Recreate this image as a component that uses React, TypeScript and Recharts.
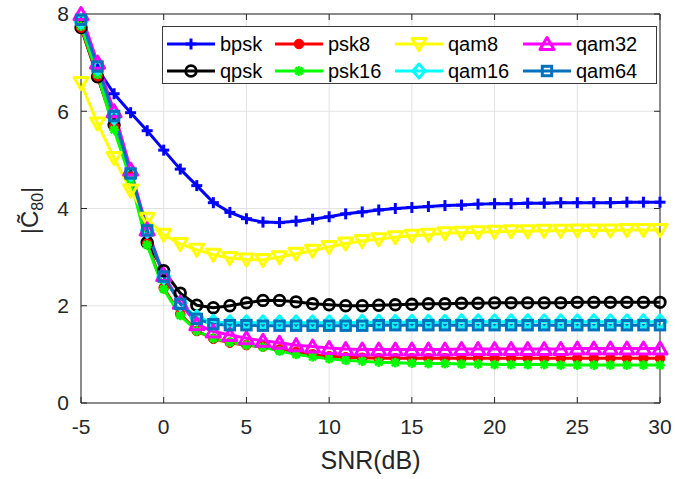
import React from 'react';
import { LineChart, Line, XAxis, YAxis, CartesianGrid, Legend } from 'recharts';

// SNR sweep in dB
const snr = [
  -5, -4, -3, -2, -1, 0, 1, 2, 3, 4, 5, 6, 7, 8, 9, 10, 11, 12,
  13, 14, 15, 16, 17, 18, 19, 20, 21, 22, 23, 24, 25, 26, 27, 28, 29, 30,
];

const xTicks = [-5, 0, 5, 10, 15, 20, 25, 30];
const yTicks = [0, 2, 4, 6, 8];
const X_DOMAIN: [number, number] = [-5, 30];
const Y_DOMAIN: [number, number] = [0, 8];

// |C80| estimates per modulation
const bpsk = [
  7.9, 6.87, 6.36, 5.97, 5.6, 5.2, 4.81, 4.47, 4.12, 3.92, 3.79, 3.72, 3.71, 3.74, 3.78, 3.83, 3.89, 3.93,
  3.97, 4.0, 4.02, 4.04, 4.06, 4.07, 4.09, 4.1, 4.1, 4.11, 4.11, 4.12, 4.12, 4.12, 4.12, 4.13, 4.13, 4.13,
];
const qpsk = [
  7.72, 6.71, 5.72, 4.69, 3.3, 2.72, 2.26, 2.01, 1.96, 2.0, 2.06, 2.11, 2.11, 2.08, 2.04, 2.02, 2.0, 2.0,
  2.01, 2.02, 2.03, 2.04, 2.04, 2.05, 2.05, 2.06, 2.06, 2.06, 2.06, 2.06, 2.07, 2.07, 2.07, 2.07, 2.07, 2.07,
];
const psk8 = [
  7.72, 6.72, 5.68, 4.65, 3.28, 2.37, 1.83, 1.48, 1.32, 1.24, 1.19, 1.16, 1.1, 1.05, 1.0, 0.96, 0.94, 0.93,
  0.92, 0.92, 0.92, 0.92, 0.92, 0.92, 0.92, 0.92, 0.92, 0.92, 0.92, 0.92, 0.92, 0.92, 0.92, 0.92, 0.92, 0.92,
];
const psk16 = [
  7.75, 6.76, 5.62, 4.6, 3.25, 2.34, 1.8, 1.48, 1.33, 1.25, 1.19, 1.15, 1.07, 1.0, 0.95, 0.91, 0.88, 0.86,
  0.84, 0.83, 0.82, 0.81, 0.81, 0.8, 0.8, 0.79, 0.79, 0.79, 0.79, 0.78, 0.78, 0.78, 0.78, 0.78, 0.78, 0.78,
];
const qam8 = [
  6.58, 5.75, 5.04, 4.37, 3.79, 3.46, 3.27, 3.15, 3.05, 2.98, 2.95, 2.94, 3.0, 3.07, 3.13, 3.21, 3.28, 3.33,
  3.37, 3.41, 3.44, 3.46, 3.49, 3.5, 3.51, 3.52, 3.53, 3.53, 3.54, 3.54, 3.55, 3.55, 3.55, 3.56, 3.56, 3.56,
];
const qam16 = [
  7.85, 6.9, 5.88, 4.72, 3.55, 2.6, 2.05, 1.76, 1.66, 1.65, 1.65, 1.65, 1.65, 1.65, 1.65, 1.65, 1.65, 1.66,
  1.66, 1.66, 1.66, 1.66, 1.66, 1.67, 1.67, 1.67, 1.67, 1.67, 1.67, 1.67, 1.67, 1.67, 1.67, 1.67, 1.67, 1.67,
];
const qam32 = [
  8.0, 7.0, 6.0, 4.8, 3.57, 2.63, 2.06, 1.62, 1.47, 1.4, 1.33, 1.28, 1.24, 1.19, 1.16, 1.13, 1.11, 1.1,
  1.1, 1.1, 1.1, 1.1, 1.1, 1.11, 1.11, 1.11, 1.11, 1.11, 1.11, 1.11, 1.12, 1.12, 1.12, 1.12, 1.12, 1.12,
];
const qam64 = [
  7.88, 6.92, 5.9, 4.72, 3.55, 2.6, 2.04, 1.73, 1.62, 1.6, 1.6, 1.59, 1.59, 1.59, 1.59, 1.59, 1.59, 1.59,
  1.6, 1.6, 1.6, 1.6, 1.6, 1.6, 1.6, 1.6, 1.6, 1.6, 1.6, 1.6, 1.6, 1.6, 1.6, 1.6, 1.6, 1.6,
];

type Shape = 'plus' | 'circle' | 'dot' | 'star' | 'down' | 'diamond' | 'up' | 'square';

interface SeriesDef {
  key: string;
  color: string;
  shape: Shape;
  values: number[];
}

const series: SeriesDef[] = [
  { key: 'bpsk', color: '#0000FF', shape: 'plus', values: bpsk },
  { key: 'qpsk', color: '#000000', shape: 'circle', values: qpsk },
  { key: 'psk8', color: '#FF0000', shape: 'dot', values: psk8 },
  { key: 'psk16', color: '#00FF00', shape: 'star', values: psk16 },
  { key: 'qam8', color: '#FFFF00', shape: 'down', values: qam8 },
  { key: 'qam16', color: '#00FFFF', shape: 'diamond', values: qam16 },
  { key: 'qam32', color: '#FF00FF', shape: 'up', values: qam32 },
  { key: 'qam64', color: '#0072BD', shape: 'square', values: qam64 },
];

// legend grid: two rows, four columns
const legendRows = [
  ['bpsk', 'psk8', 'qam8', 'qam32'],
  ['qpsk', 'psk16', 'qam16', 'qam64'],
];

const data = snr.map((x, i) => {
  const row: Record<string, number> = { snr: x };
  series.forEach((s) => {
    row[s.key] = s.values[i];
  });
  return row;
});

const CHART_W = 675;
const CHART_H = 479;
const MARGIN = { top: 14, right: 15, bottom: 36, left: 21 };
const TICK_LEN = 6;
const AXIS = '#262626';
const FONT = '"Liberation Sans", Arial, Helvetica, sans-serif';

function Marker({ cx, cy, shape, color }: { cx: number; cy: number; shape: Shape; color: string }) {
  const sw = 3;
  switch (shape) {
    case 'plus':
      return (
        <g stroke={color} strokeWidth={3} fill="none">
          <line x1={cx - 5.5} y1={cy} x2={cx + 5.5} y2={cy} />
          <line x1={cx} y1={cy - 5.5} x2={cx} y2={cy + 5.5} />
        </g>
      );
    case 'circle':
      return <circle cx={cx} cy={cy} r={5.3} stroke={color} strokeWidth={2.8} fill="none" />;
    case 'dot':
      return <circle cx={cx} cy={cy} r={4.8} stroke={color} strokeWidth={1} fill={color} />;
    case 'star':
      return (
        <g stroke={color} strokeWidth={2.6} fill="none">
          <line x1={cx - 4.8} y1={cy} x2={cx + 4.8} y2={cy} />
          <line x1={cx} y1={cy - 4.8} x2={cx} y2={cy + 4.8} />
          <line x1={cx - 3.5} y1={cy - 3.5} x2={cx + 3.5} y2={cy + 3.5} />
          <line x1={cx - 3.5} y1={cy + 3.5} x2={cx + 3.5} y2={cy - 3.5} />
        </g>
      );
    case 'down':
      return (
        <polygon
          points={`${cx - 7},${cy - 5.5} ${cx + 7},${cy - 5.5} ${cx},${cy + 6.5}`}
          stroke={color}
          strokeWidth={sw}
          strokeLinejoin="round"
          fill="none"
        />
      );
    case 'up':
      return (
        <polygon
          points={`${cx - 7},${cy + 5.5} ${cx + 7},${cy + 5.5} ${cx},${cy - 6.5}`}
          stroke={color}
          strokeWidth={sw}
          strokeLinejoin="round"
          fill="none"
        />
      );
    case 'diamond':
      return (
        <polygon
          points={`${cx},${cy - 7} ${cx + 6},${cy} ${cx},${cy + 7} ${cx - 6},${cy}`}
          stroke={color}
          strokeWidth={sw}
          strokeLinejoin="round"
          fill="none"
        />
      );
    case 'square':
    default:
      return (
        <rect x={cx - 4.7} y={cy - 4.7} width={9.4} height={9.4} stroke={color} strokeWidth={sw} fill="none" />
      );
  }
}

const makeDot = (s: SeriesDef) => (props: any) => {
  const { cx, cy, index } = props;
  if (cx == null || cy == null) return <g key={`${s.key}-${index}`} />;
  return <Marker key={`${s.key}-${index}`} cx={cx} cy={cy} shape={s.shape} color={s.color} />;
};

const colLeft = [4, 112, 232, 360];
const rowCenter = [17, 44];

function LegendBox() {
  const byKey: Record<string, SeriesDef> = {};
  series.forEach((s) => (byKey[s.key] = s));
  return (
    <div
      style={{
        position: 'relative',
        width: 495,
        height: 58,
        boxSizing: 'border-box',
        border: '1px solid #3a3a3a',
        background: '#ffffff',
        fontFamily: FONT,
        fontSize: 20,
        color: '#000',
      }}
    >
      {legendRows.map((row, r) =>
        row.map((k, c) => {
          const s = byKey[k];
          return (
            <div
              key={k}
              style={{
                position: 'absolute',
                left: colLeft[c],
                top: rowCenter[r] - 12,
                height: 24,
                display: 'flex',
                alignItems: 'center',
                whiteSpace: 'nowrap',
              }}
            >
              <svg width={53} height={24} style={{ display: 'block' }}>
                <line x1={0} y1={12} x2={48} y2={12} stroke={s.color} strokeWidth={3} />
                <Marker cx={24} cy={12} shape={s.shape} color={s.color} />
              </svg>
              <span style={{ lineHeight: '24px' }}>{k}</span>
            </div>
          );
        }),
      )}
    </div>
  );
}

// y-axis title plus the top/right box edges with inward ticks
function YTitleAndFrame(props: any) {
  const vb = props.viewBox || { x: MARGIN.left, y: MARGIN.top, width: 60, height: 389 };
  const left = vb.x + vb.width;
  const top = vb.y;
  const bottom = vb.y + vb.height;
  const right = CHART_W - MARGIN.right;
  const xPos = (t: number) => left + ((t - X_DOMAIN[0]) / (X_DOMAIN[1] - X_DOMAIN[0])) * (right - left);
  const yPos = (v: number) => bottom - ((v - Y_DOMAIN[0]) / (Y_DOMAIN[1] - Y_DOMAIN[0])) * (bottom - top);
  const cx = vb.x + 17;
  const cy = vb.y + vb.height / 2 + 2;
  return (
    <g>
      <g stroke={AXIS} strokeWidth={1} fill="none">
        <line x1={left} y1={top} x2={right} y2={top} />
        <line x1={right} y1={top} x2={right} y2={bottom} />
        {xTicks.map((t) => (
          <line key={`tx${t}`} x1={xPos(t)} y1={top} x2={xPos(t)} y2={top + TICK_LEN} />
        ))}
        {yTicks.map((v) => (
          <line key={`ty${v}`} x1={right - TICK_LEN} y1={yPos(v)} x2={right} y2={yPos(v)} />
        ))}
      </g>
      <g transform={`translate(${cx},${cy}) rotate(-90)`}>
        <text x={0} y={0} textAnchor="middle" fill={AXIS} fontFamily={FONT} fontSize={24}>
          <tspan>|</tspan>
          <tspan>{'C\u0303'}</tspan>
          <tspan fontSize={16} dy={5}>
            80
          </tspan>
          <tspan dy={-5}>|</tspan>
        </text>
      </g>
    </g>
  );
}

export default function App() {
  return (
    <div style={{ position: 'absolute', left: 0, top: 0, width: CHART_W, height: CHART_H, background: '#fff' }}>
      <LineChart width={CHART_W} height={CHART_H} data={data} margin={MARGIN} style={{ fontFamily: FONT }}>
        <CartesianGrid stroke="#e3e3e3" strokeWidth={1} horizontal vertical />
        <XAxis
          dataKey="snr"
          type="number"
          domain={X_DOMAIN}
          ticks={xTicks}
          interval={0}
          height={40}
          stroke={AXIS}
          tickSize={-TICK_LEN}
          tickMargin={22}
          tick={{ fill: AXIS, fontSize: 21, fontFamily: FONT }}
          label={{ value: 'SNR(dB)', position: 'bottom', offset: 8, fill: AXIS, fontSize: 25, fontFamily: FONT }}
        />
        <YAxis
          type="number"
          domain={Y_DOMAIN}
          ticks={yTicks}
          interval={0}
          width={60}
          stroke={AXIS}
          tickSize={-TICK_LEN}
          tickMargin={18}
          tick={{ fill: AXIS, fontSize: 21, fontFamily: FONT }}
          label={(p: any) => <YTitleAndFrame {...p} />}
        />
        {series.map((s) => (
          <Line
            key={s.key}
            dataKey={s.key}
            name={s.key}
            stroke={s.color}
            strokeWidth={3}
            dot={makeDot(s)}
            activeDot={false}
            isAnimationActive={false}
            type="linear"
          />
        ))}
        <Legend
          layout="horizontal"
          verticalAlign="middle"
          align="center"
          content={() => <LegendBox />}
          wrapperStyle={{ left: 162, top: 26, width: 495, height: 58 }}
        />
      </LineChart>
    </div>
  );
}
